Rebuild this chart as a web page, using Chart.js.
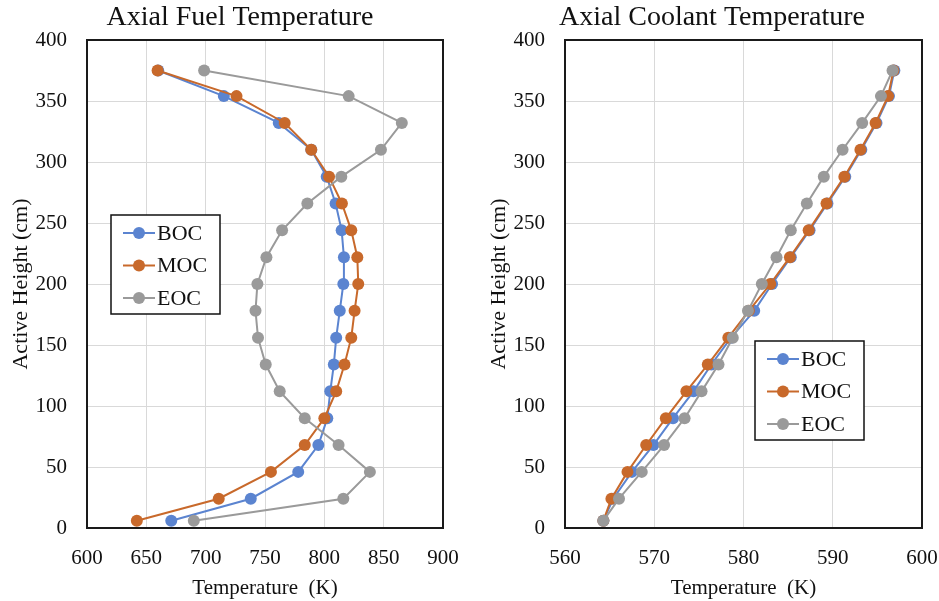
<!DOCTYPE html>
<html>
<head>
<meta charset="utf-8">
<script src="https://cdn.jsdelivr.net/npm/chart.js@4.4.1/dist/chart.umd.min.js"></script>
<style>
  html, body { margin: 0; padding: 0; background: #fff; }
  #wrap { position: relative; width: 939px; height: 601px; }
  .box { position: absolute; top: 0; height: 601px; }
</style>
</head>
<body>
<div id="wrap">
  <div class="box" style="left:0;width:470px"><canvas id="fuelChart"></canvas></div>
  <div class="box" style="left:470px;width:469px"><canvas id="coolantChart"></canvas></div>
</div>
<script>
// Alturas ativas (cm) de cada ponto
const heights = [6, 24, 46, 68, 90, 112, 134, 156, 178, 200, 222, 244, 266, 288, 310, 332, 354, 375];

// Temperatura do combustível (K)
const fuelBOC = [671, 738, 778, 795, 802.5, 805, 808, 810, 813, 816, 816.5, 814.6, 809.5, 802, 789, 761.6, 715.3, 660];
const fuelMOC = [642, 711, 755, 783.5, 800, 810, 817, 822.7, 825.5, 828.6, 827.8, 822.7, 814.8, 804, 789, 766.6, 726, 659.5];
const fuelEOC = [690, 816, 838.4, 812, 783.5, 762.4, 750.6, 744.1, 742, 743.6, 751.2, 764.4, 785.7, 814.3, 847.7, 865.3, 820.5, 698.7];

// Temperatura do refrigerante (K)
const coolBOC = [564.3, 565.4, 567.5, 569.9, 572.1, 574.4, 576.4, 578.6, 581.2, 583.2, 585.3, 587.4, 589.4, 591.4, 593.2, 594.9, 596.3, 596.9];
const coolMOC = [564.3, 565.2, 567.0, 569.1, 571.3, 573.6, 576.0, 578.3, 580.6, 583.0, 585.2, 587.3, 589.3, 591.3, 593.1, 594.8, 596.2, 596.8];
const coolEOC = [564.3, 566.05, 568.6, 571.1, 573.4, 575.3, 577.2, 578.8, 580.5, 582.05, 583.7, 585.3, 587.1, 589.0, 591.1, 593.3, 595.4, 596.7];

const seriesNames = ['BOC', 'MOC', 'EOC'];
const seriesColors = ['#5b84d0', '#c8692b', '#9a9a9a'];

const FONT = "'Liberation Serif', 'Times New Roman', serif";

function toPoints(values) {
    return values.map((v, i) => ({ x: v, y: heights[i] }));
}

function makeDatasets(series) {
    return series.map((values, i) => ({
        label: seriesNames[i],
        data: toPoints(values),
        showLine: true,
        borderColor: seriesColors[i],
        backgroundColor: seriesColors[i],
        borderWidth: 2,
        pointRadius: 6,
        pointHoverRadius: 6,
        pointBorderWidth: 0,
        order: 3 - i // EOC fica por cima
    }));
}

// Plugin: título, moldura da área do gráfico e legenda dentro da área
const decorPlugin = {
    id: 'decor',
    afterDraw(chart, args, opts) {
        const ctx = chart.ctx;
        const area = chart.chartArea;
        ctx.save();

        // moldura
        ctx.strokeStyle = '#1a1a1a';
        ctx.lineWidth = 2;
        ctx.strokeRect(area.left, area.top, area.right - area.left, area.bottom - area.top);

        // título
        ctx.fillStyle = '#111';
        ctx.font = '28px ' + FONT;
        ctx.textAlign = 'center';
        ctx.textBaseline = 'middle';
        ctx.fillText(opts.title, opts.titleX, 18);

        // legenda
        const bx = area.left + opts.legendDx;
        const by = area.top + opts.legendDy;
        ctx.fillStyle = '#fff';
        ctx.fillRect(bx, by, 109, 99);
        ctx.strokeStyle = '#111';
        ctx.lineWidth = 1.5;
        ctx.strokeRect(bx, by, 109, 99);
        ctx.font = '22px ' + FONT;
        ctx.textAlign = 'left';
        chart.data.datasets.forEach((ds, i) => {
            const y = by + 18 + i * 32.5;
            ctx.strokeStyle = ds.borderColor;
            ctx.lineWidth = 2;
            ctx.beginPath();
            ctx.moveTo(bx + 12, y);
            ctx.lineTo(bx + 44, y);
            ctx.stroke();
            ctx.fillStyle = ds.backgroundColor;
            ctx.beginPath();
            ctx.arc(bx + 28, y, 6, 0, Math.PI * 2);
            ctx.fill();
            ctx.fillStyle = '#111';
            ctx.fillText(ds.label, bx + 46, y + 1);
        });
        ctx.restore();
    }
};

function makeChart(id, series, xMin, xMax, xStep, decor, padding) {
    const ctx = document.getElementById(id).getContext('2d');
    return new Chart(ctx, {
        type: 'scatter',
        data: { datasets: makeDatasets(series) },
        options: {
            responsive: true,
            maintainAspectRatio: false,
            animation: false,
            layout: { padding: padding },
            plugins: {
                legend: { display: false },
                tooltip: { enabled: false },
                title: { display: false },
                decor: decor
            },
            scales: {
                x: {
                    type: 'linear',
                    min: xMin,
                    max: xMax,
                    ticks: { stepSize: xStep, padding: 18, color: '#111', font: { family: FONT, size: 21 } },
                    grid: { color: '#d9d9d9', drawTicks: false },
                    border: { display: false },
                    title: { display: true, text: 'Temperature  (K)', color: '#111', font: { family: FONT, size: 21 }, padding: { top: 3, bottom: 0 } },
                    afterFit(scale) {
                        scale.height = 73;
                        scale.paddingLeft = 0;
                        scale.paddingRight = 0;
                    }
                },
                y: {
                    min: 0,
                    max: 400,
                    ticks: { stepSize: 50, padding: 20, color: '#111', font: { family: FONT, size: 21 } },
                    grid: { color: '#d9d9d9', drawTicks: false },
                    border: { display: false },
                    title: { display: true, text: 'Active Height (cm)', color: '#111', font: { family: FONT, size: 22 }, padding: { top: 6, bottom: 4 } },
                    afterFit(scale) {
                        scale.width = 85;
                    }
                }
            }
        },
        plugins: [decorPlugin]
    });
}

makeChart('fuelChart', [fuelBOC, fuelMOC, fuelEOC], 600, 900, 50,
    { title: 'Axial Fuel Temperature', titleX: 240, legendDx: 24, legendDy: 175 },
    { top: 40, left: 2, right: 27, bottom: 0 });

makeChart('coolantChart', [coolBOC, coolMOC, coolEOC], 560, 600, 10,
    { title: 'Axial Coolant Temperature', titleX: 242, legendDx: 190, legendDy: 301 },
    { top: 40, left: 10, right: 17, bottom: 0 });
</script>
</body>
</html>
